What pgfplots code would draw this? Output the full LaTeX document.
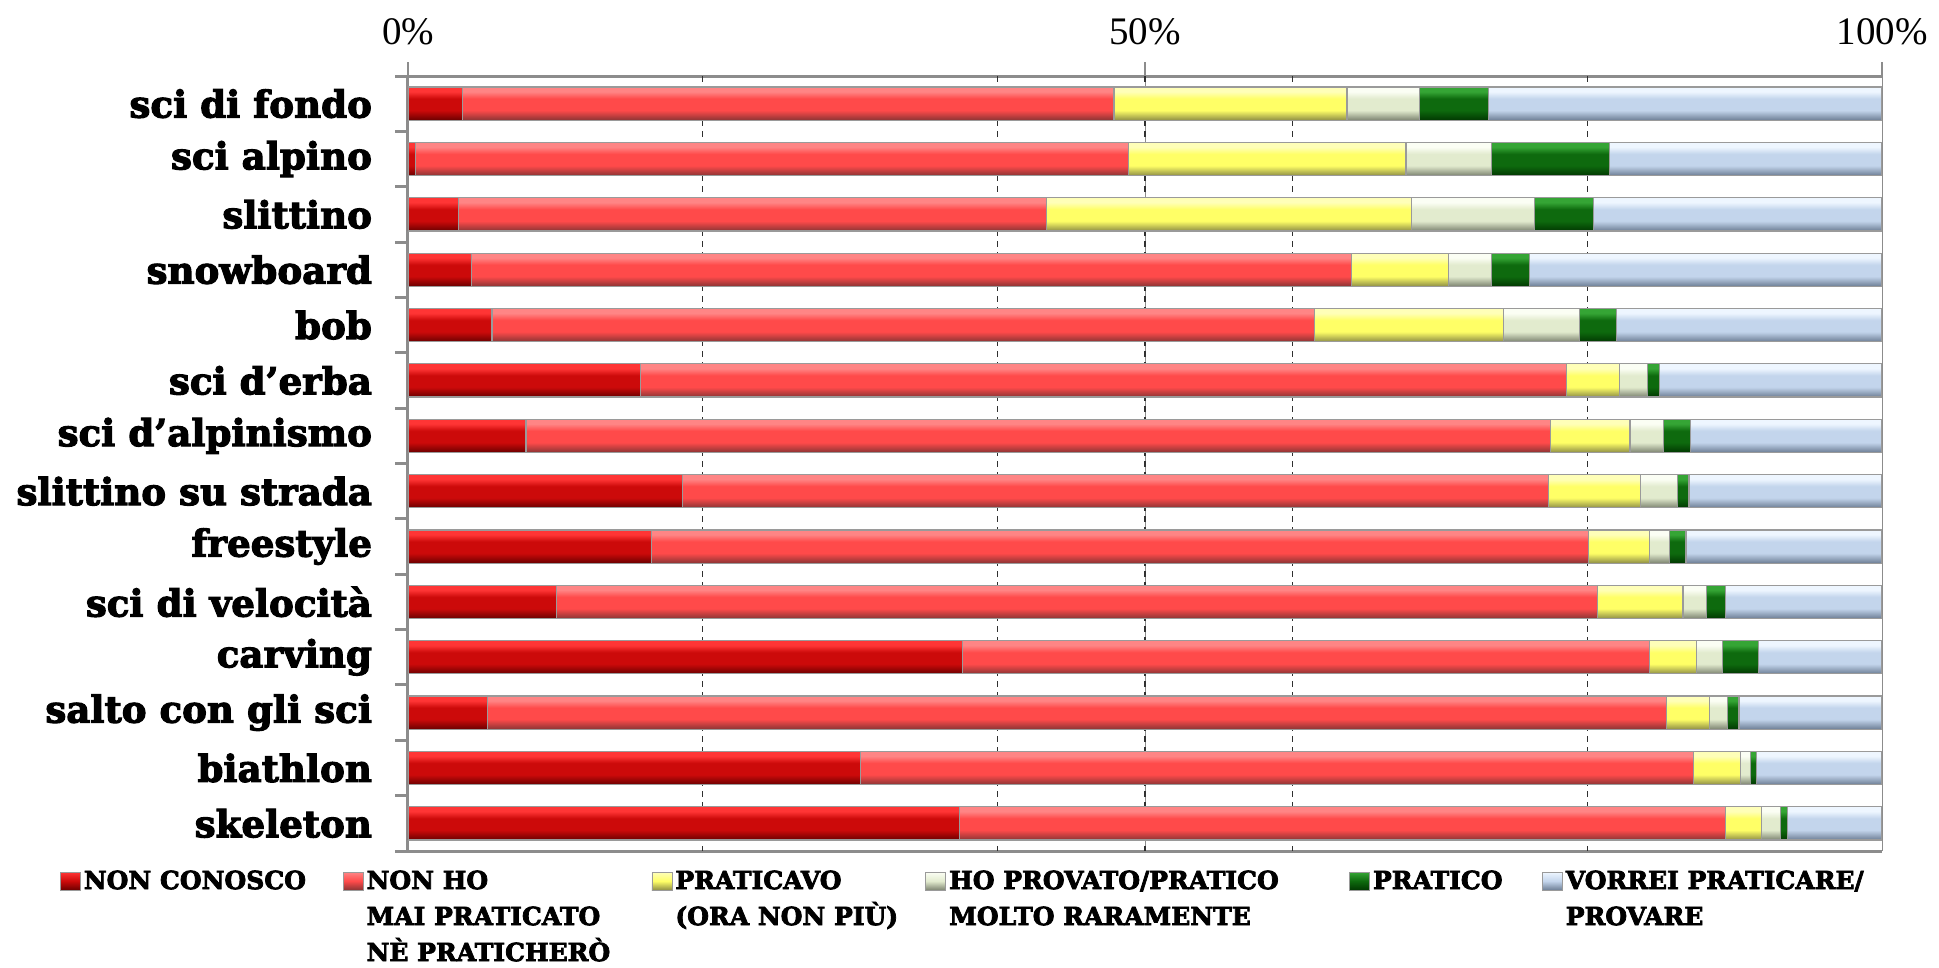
\documentclass[border=0pt]{standalone}
\usepackage{fontspec}
\setmainfont{DejaVu Serif}[BoldFeatures={FakeBold=3}]
\newfontfamily\tickfont{Liberation Serif}
\usepackage{pgfplots}
\usepackage{pgfplotstable}
\pgfplotsset{compat=1.18}

\definecolor{axisgray}{HTML}{8C8C8C}
\definecolor{sepgray}{HTML}{9A9A9A}
\definecolor{gridgray}{HTML}{303030}
\definecolor{rdTop}{HTML}{FF3535}\definecolor{rdMid}{HTML}{CC0A0A}\definecolor{rdBot}{HTML}{6A0000}
\definecolor{rlTop}{HTML}{FF8585}\definecolor{rlMid}{HTML}{FF4A4A}\definecolor{rlBot}{HTML}{8A3434}
\definecolor{ylTop}{HTML}{FFFFB8}\definecolor{ylMid}{HTML}{FFFF66}\definecolor{ylBot}{HTML}{8E8E45}
\definecolor{pgTop}{HTML}{FBFEF4}\definecolor{pgMid}{HTML}{E2EBCE}\definecolor{pgBot}{HTML}{7C8370}
\definecolor{gnTop}{HTML}{35A535}\definecolor{gnMid}{HTML}{0E6A0E}\definecolor{gnBot}{HTML}{013801}
\definecolor{blTop}{HTML}{EEF6FF}\definecolor{blMid}{HTML}{C3D5EC}\definecolor{blBot}{HTML}{6C7D94}

% Bevelled look for the bars: a vertical shading with one gradient band per
% category row.  TikZ maps the band region 25bp..75bp onto the bounding box of a
% series, i.e. from the top edge of the first bar to the bottom edge of the last
% one (14 rows, bar width 0.6, row pitch 1  ->  13.6 units).
\newcommand\declarebandshading[4]{% name, bottom colour, middle colour, top colour
  \gdef\shspec{color(0bp)=(#2); color(25bp)=(#2)}%
  \foreach \k in {0,...,13} {%
    \pgfmathsetmacro\lo{25+3.6764706*\k}%
    \pgfmathsetmacro\pa{\lo+0.30*2.2058824}%
    \pgfmathsetmacro\pb{\lo+0.65*2.2058824}%
    \pgfmathsetmacro\pc{\lo+0.86*2.2058824}%
    \pgfmathsetmacro\hi{\lo+2.2058824}%
    \xdef\shspec{\shspec; color(\lo bp)=(#2); color(\pa bp)=(#3); color(\pb bp)=(#3); color(\pc bp)=(#4); color(\hi bp)=(#4)}%
  }%
  \xdef\shspec{\shspec; color(100bp)=(#4)}%
  \edef\tmp{\noexpand\pgfdeclareverticalshading{#1}{100bp}{\shspec}}\tmp
}
\declarebandshading{rdBand}{rdBot}{rdMid}{rdTop}
\declarebandshading{rlBand}{rlBot}{rlMid}{rlTop}
\declarebandshading{ylBand}{ylBot}{ylMid}{ylTop}
\declarebandshading{pgBand}{pgBot}{pgMid}{pgTop}
\declarebandshading{gnBand}{gnBot}{gnMid}{gnTop}
\declarebandshading{blBand}{blBot}{blMid}{blTop}

% share of answers per winter sport (percent of respondents)
% a: non conosco, b: non ho mai praticato, c: praticavo, d: provato/raramente, e: pratico, f: vorrei
\pgfplotstableread{
idx a    b    c    d   e   f
0   3.7  44.2 15.8 4.9 4.7 26.7
1   0.5  48.4 18.8 5.8 8.0 18.5
2   3.4  39.9 24.8 8.3 4.0 19.6
3   4.3  59.7 6.6  2.9 2.6 23.9
4   5.7  55.8 12.8 5.2 2.5 18.0
5   15.8 62.8 3.6  1.9 0.8 15.1
6   8.0  69.5 5.4  2.3 1.8 13.0
7   18.6 58.8 6.2  2.5 0.8 13.1
8   16.5 63.6 4.1  1.4 1.1 13.3
9   10.1 70.6 5.8  1.6 1.3 10.6
10  37.6 46.6 3.2  1.8 2.4 8.4
11  5.4  80.0 2.9  1.2 0.8 9.7
12  30.7 56.5 3.2  0.7 0.4 8.5
13  37.4 52.0 2.4  1.3 0.5 6.4
}\skidata

\begin{document}
\begin{tikzpicture}
\path[use as bounding box] (0,0) rectangle (969.5pt,-484pt);
\begin{axis}[
  at={(204pt,-38pt)}, anchor=north west,
  scale only axis, width=737pt, height=387.5pt,
  xbar stacked, bar width=0.6,
  xmin=0, xmax=100, ymin=-0.5, ymax=13.5, y dir=reverse,
  axis x line*=box, axis y line*=left,
  axis line style={-, axisgray, line width=1.5pt},
  tick align=outside,
  major tick length=7pt,
  xtick={0,50,100}, xtick pos=upper, xticklabel pos=upper,
  xticklabel={\pgfmathprintnumber[assume math mode=true]{\tick}\%},
  xticklabel style={font=\tickfont\fontsize{19.5}{19.5}\selectfont, yshift=5pt},
  major x tick style={axisgray, line width=1.2pt},
  xmajorgrids,
  major grid style={axisgray, line width=0.5pt},
  extra x ticks={20,40,50,60,80},
  extra x tick labels={},
  extra x tick style={grid=major, major tick length=0pt,
    major grid style={gridgray, line width=0.6pt, dash pattern=on 3pt off 2.5pt}},
  ytick={0,...,13},
  yticklabels={sci di fondo, sci alpino, slittino, snowboard, bob, sci d’erba,
    sci d’alpinismo, slittino su strada, freestyle, sci di velocità, carving,
    salto con gli sci, biathlon, skeleton},
  ytick pos=left,
  major y tick style={draw=none},
  minor ytick={-0.5,0.5,...,13.5},
  minor tick length=6.3pt,
  minor y tick style={axisgray, line width=1.5pt},
  yticklabel style={font=\fontsize{18.6}{18.6}\selectfont\bfseries, xshift=-7.5pt},
  legend columns=6,
  legend style={at={(-0.2361,-0.0252)}, anchor=north west, draw=none, fill=none,
    inner sep=0pt, outer sep=0pt,
    font=\fontsize{12.5}{18}\selectfont\bfseries,
    column sep=0pt,
    /tikz/every odd column/.append style={column sep=1.5pt},
    cells={anchor=base west}, nodes={inner sep=0pt}},
  bevel/.style n args={4}{draw=sepgray, line width=0.6pt, shading=#1,
    legend image code/.code={\draw[draw=sepgray, line width=0.4pt,
      top color=#4, bottom color=#2, middle color=#3] (0pt,-0.5pt) rectangle (10pt,8.5pt);}},
]
\addplot[bevel={rdBand}{rdBot}{rdMid}{rdTop}] table[x=a, y=idx] {\skidata};
\addlegendentry{\parbox[t]{129.5pt}{NON CONOSCO}}
\addplot[bevel={rlBand}{rlBot}{rlMid}{rlTop}] table[x=b, y=idx] {\skidata};
\addlegendentry{\parbox[t]{142.5pt}{NON HO\\MAI PRATICATO\\NÈ PRATICHERÒ}}
\addplot[bevel={ylBand}{ylBot}{ylMid}{ylTop}] table[x=c, y=idx] {\skidata};
\addlegendentry{\parbox[t]{125pt}{PRATICAVO\\(ORA NON PIÙ)}}
\addplot[bevel={pgBand}{pgBot}{pgMid}{pgTop}] table[x=d, y=idx] {\skidata};
\addlegendentry{\parbox[t]{200pt}{HO PROVATO/PRATICO\\MOLTO RARAMENTE}}
\addplot[bevel={gnBand}{gnBot}{gnMid}{gnTop}] table[x=e, y=idx] {\skidata};
\addlegendentry{\parbox[t]{84.5pt}{PRATICO}}
\addplot[bevel={blBand}{blBot}{blMid}{blTop}] table[x=f, y=idx] {\skidata};
\addlegendentry{\parbox[t]{170pt}{VORREI PRATICARE/\\PROVARE}}
\end{axis}
\end{tikzpicture}
\end{document}
